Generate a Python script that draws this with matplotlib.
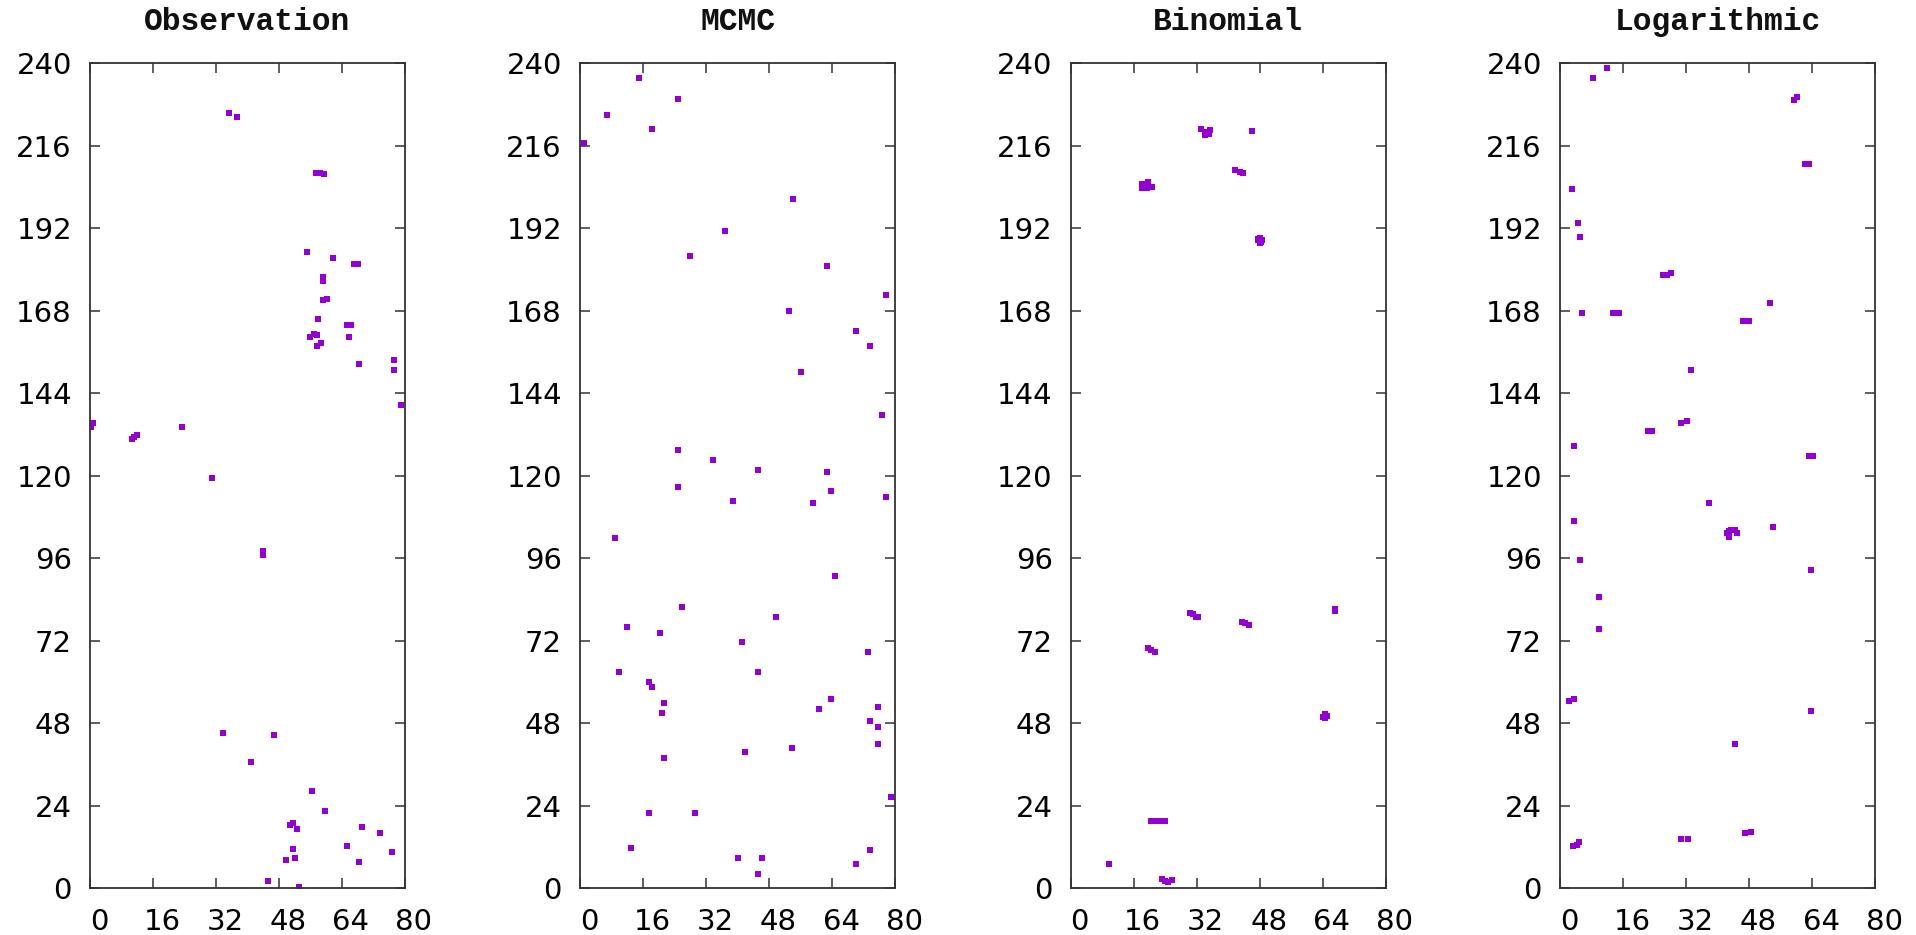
import matplotlib
matplotlib.use("Agg")
import matplotlib.pyplot as plt
import matplotlib.transforms as mtransforms

# panel titles
titles = ["Observation", "MCMC", "Binomial", "Logarithmic"]

# Observation
obs_x = [35.3, 37.4, 57.5, 58.5, 59.5, 55.0, 61.8, 67.0, 68.0, 59.1, 59.1, 59.1, 60.3,
         58.0, 65.2, 66.4, 65.8, 55.9, 56.9, 57.7, 57.6, 58.6, 68.4, 77.3, 77.3, 79.0,
         0.2, 0.7, 10.6, 11.3, 11.9, 23.4,
         31.1, 44.0, 44.0, 33.7, 46.7, 41.0, 56.5, 59.7, 50.8, 51.5, 52.5, 69.1, 73.7,
         51.5, 65.3, 76.8, 49.8, 52.0, 68.4, 45.1, 53.0]
obs_y = [225.6, 224.4, 208.0, 208.2, 207.8, 185.2, 183.4, 181.5, 181.7, 177.7, 176.8, 171.1, 171.4,
         165.6, 163.9, 163.9, 160.5, 160.5, 161.2, 161.0, 157.8, 158.5, 152.5, 153.7, 150.8, 140.6,
         134.3, 135.4, 130.6, 131.3, 131.9, 134.1,
         119.3, 97.0, 98.0, 45.1, 44.5, 36.7, 28.4, 22.5, 18.4, 18.9, 17.2, 17.7, 16.0,
         11.3, 12.4, 10.6, 8.2, 8.7, 7.6, 2.2, 0.3]

# MCMC
mcmc_x = [1.0, 6.8, 15.1, 18.2, 25.0, 54.0, 36.8, 28.0, 62.8, 77.8, 53.0, 70.0, 73.7, 56.0,
          76.8, 25.0, 33.7, 45.1, 62.8, 25.0, 63.8, 77.8, 38.9, 59.1, 8.8, 64.8, 26.0, 49.9,
          11.9, 20.3, 41.1, 73.1, 9.9, 45.1, 17.4, 18.3, 63.8, 21.3, 60.7, 75.7, 20.7, 73.7,
          75.7, 75.7, 53.8, 42.0, 21.3, 79.0, 17.4, 29.1, 13.0, 73.7, 40.0, 46.1, 70.0, 45.1]
mcmc_y = [216.7, 225.0, 235.6, 220.9, 229.7, 200.6, 191.2, 183.9, 181.0, 172.7, 167.9, 162.0,
          157.8, 150.1, 137.7, 127.5, 124.6, 121.7, 121.0, 116.8, 115.7, 113.9, 112.8, 112.2,
          102.0, 90.8, 81.8, 78.9, 75.9, 74.2, 71.7, 68.7, 62.8, 62.8, 59.9, 58.6, 55.1, 53.9,
          52.2, 52.7, 50.9, 48.7, 46.8, 42.1, 40.9, 39.7, 37.9, 26.6, 21.9, 21.9, 11.8, 11.2,
          8.8, 8.8, 7.1, 4.1]

# Binomial
bin_x = [33.0, 34.0, 35.0, 35.5, 34.0, 46.0, 41.7, 43.0, 43.8,
         18.0, 18.8, 19.6, 20.6, 18.2, 19.5,
         47.5, 48.5, 48.0, 48.0, 47.6, 48.4,
         67.0, 67.2, 30.3, 31.0, 31.7, 32.3, 43.5, 44.3, 45.3, 19.7, 20.5, 21.4,
         64.2, 65.0, 64.6, 64.6, 20.5, 21.6, 22.8, 23.9, 9.7, 23.1, 24.0, 24.8, 25.6]
bin_y = [221.0, 220.0, 219.5, 220.5, 219.0, 220.3, 209.0, 208.5, 208.0,
         203.6, 204.5, 205.6, 204.0, 205.0, 203.8,
         188.5, 188.5, 187.8, 189.2, 188.9, 188.0,
         81.2, 80.6, 80.0, 79.8, 79.0, 79.0, 77.6, 77.3, 76.6, 69.8, 69.3, 68.8,
         49.9, 50.2, 49.4, 50.6, 19.6, 19.6, 19.6, 19.6, 7.1, 2.6, 2.2, 1.9, 2.3]

# Logarithmic
log_x = [11.9, 8.3, 59.5, 60.2, 62.2, 63.2, 3.0, 4.6, 5.2, 26.2, 27.2, 28.2, 53.4, 5.6,
         13.4, 14.9, 46.4, 47.9, 33.2, 30.7, 32.2, 22.3, 23.3, 3.6, 63.2, 64.2,
         37.8, 3.6, 54.0, 42.3, 43.0, 43.5, 44.5, 45.0, 43.0, 5.1, 63.7, 9.8, 9.8, 2.4, 3.6,
         63.7, 44.5, 3.3, 4.2, 4.8, 30.8, 32.6, 47.0, 48.4]
log_y = [238.7, 235.6, 229.3, 230.1, 210.7, 210.7, 203.5, 193.5, 189.4, 178.4, 178.4, 178.9,
         170.4, 167.4, 167.4, 167.4, 165.0, 165.0, 150.8, 135.4, 135.9, 133.0, 133.0, 128.8,
         125.9, 125.9, 112.2, 106.9, 105.0, 103.5, 102.3, 104.2, 104.2, 103.5, 104.0, 95.5,
         92.5, 84.8, 75.3, 54.6, 55.1, 51.6, 42.1, 12.4, 12.6, 13.6, 14.3, 14.3, 16.0, 16.4]

xticks = [0, 16, 32, 48, 64, 80]
yticks = [0, 24, 48, 72, 96, 120, 144, 168, 192, 216, 240]

series = [(obs_x, obs_y), (mcmc_x, mcmc_y), (bin_x, bin_y), (log_x, log_y)]
lefts = [90, 580, 1070.7, 1560]

W, H = 1916, 935
fig = plt.figure(figsize=(W / 100, H / 100), dpi=100)

for i in range(4):
    ax = fig.add_axes([lefts[i] / W, 46.7 / H, 315 / W, 825 / H])
    xs, ys = series[i]
    ax.plot(xs, ys, 's', color='#9400d3', markersize=4.4, markeredgewidth=0)
    ax.set_xlim(0, 80)
    ax.set_ylim(0, 240)
    ax.set_xticks(xticks)
    ax.set_yticks(yticks)
    ax.tick_params(direction='in', length=7.2, width=1.1, color='#333333',
                   top=True, right=True, labelsize=21, labelcolor='#000000')
    ax.tick_params(axis='y', pad=13)
    ax.tick_params(axis='x', pad=14)
    for s in ax.spines.values():
        s.set_color('#333333')
        s.set_linewidth(1.3)
    # gnuplot-ish label placement: x labels sit a bit to the right
    off = mtransforms.ScaledTranslation(9 / 100, 0, fig.dpi_scale_trans)
    for lab in ax.get_xticklabels():
        lab.set_transform(lab.get_transform() + off)
    ax.set_title(titles[i], fontsize=22.5, family='Liberation Mono', fontweight='bold',
                 color='#111111', pad=24)

fig.savefig('out.png', dpi=100)
